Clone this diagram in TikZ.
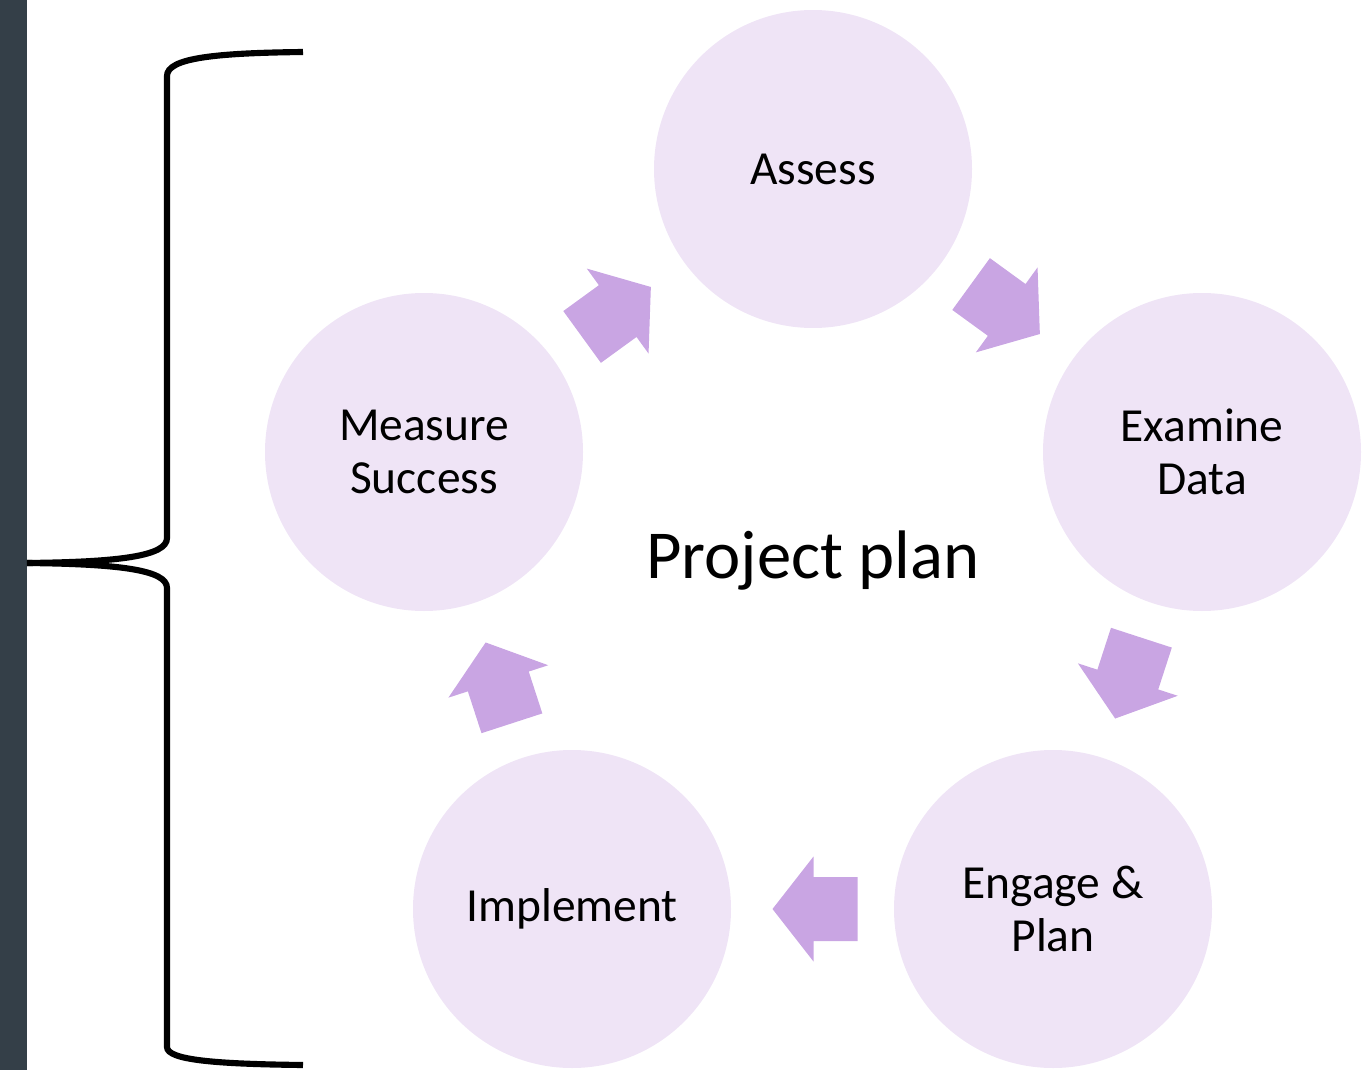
\documentclass[tikz,border=0pt]{standalone}
\usepackage{fontspec}
\setmainfont{Carlito}
\usetikzlibrary{calc}
\definecolor{circ}{RGB}{239,228,246}
\definecolor{arr}{RGB}{201,165,227}
\definecolor{strip}{RGB}{52,63,72}
\begin{document}
\begin{tikzpicture}[x=0.75pt,y=-0.75pt,
  stage/.style={circle, fill=circ, minimum size=238.5pt, inner sep=0pt, align=center,
    font=\fontsize{35.6}{39.75}\selectfont},
  cycarrow/.pic={\fill[arr] (-45,-32) -- (-1,-32) -- (-1,-52.5) -- (40,0) -- (-1,52.5) -- (-1,32) -- (-45,32) -- cycle;},
  bracestroke/.style={line width=4.6pt}]
\useasboundingbox (0,0) rectangle (1371,1070);
\fill[strip] (0,0) rectangle (27,1070);
% brace
\draw[bracestroke] (303,52) .. controls (215,53) and (167,58) .. (167,76) -- (167,538)
  .. controls (167,556) and (120,562) .. (27,563);
\draw[bracestroke] (27,563) .. controls (120,564) and (167,570) .. (167,588) -- (167,1047)
  .. controls (167,1060) and (215,1064) .. (303,1065);
% stages
\node[stage] (A) at (813,169) {Assess};
\node[stage] (E) at (1202,452) {Examine\\Data};
\node[stage] (G) at (1053,909) {Engage \&\\Plan};
\node[stage] (I) at (572,909) {Implement};
\node[stage] (M) at (424,452) {Measure\\Success};
% arrows
\pic[rotate=-36] at ($(A)!0.5!(E)$) {cycarrow};
\pic[rotate=-108] at ($(E)!0.5!(G)$) {cycarrow};
\pic[rotate=180] at ($(G)!0.5!(I)$) {cycarrow};
\pic[rotate=108] at ($(I)!0.5!(M)$) {cycarrow};
\pic[rotate=36] at ($(M)!0.5!(A)$) {cycarrow};
% center
\node[anchor=base, font=\fontsize{51.5}{60}\selectfont, inner sep=0pt] (P) at (813,578) {Project plan};
\end{tikzpicture}
\end{document}
